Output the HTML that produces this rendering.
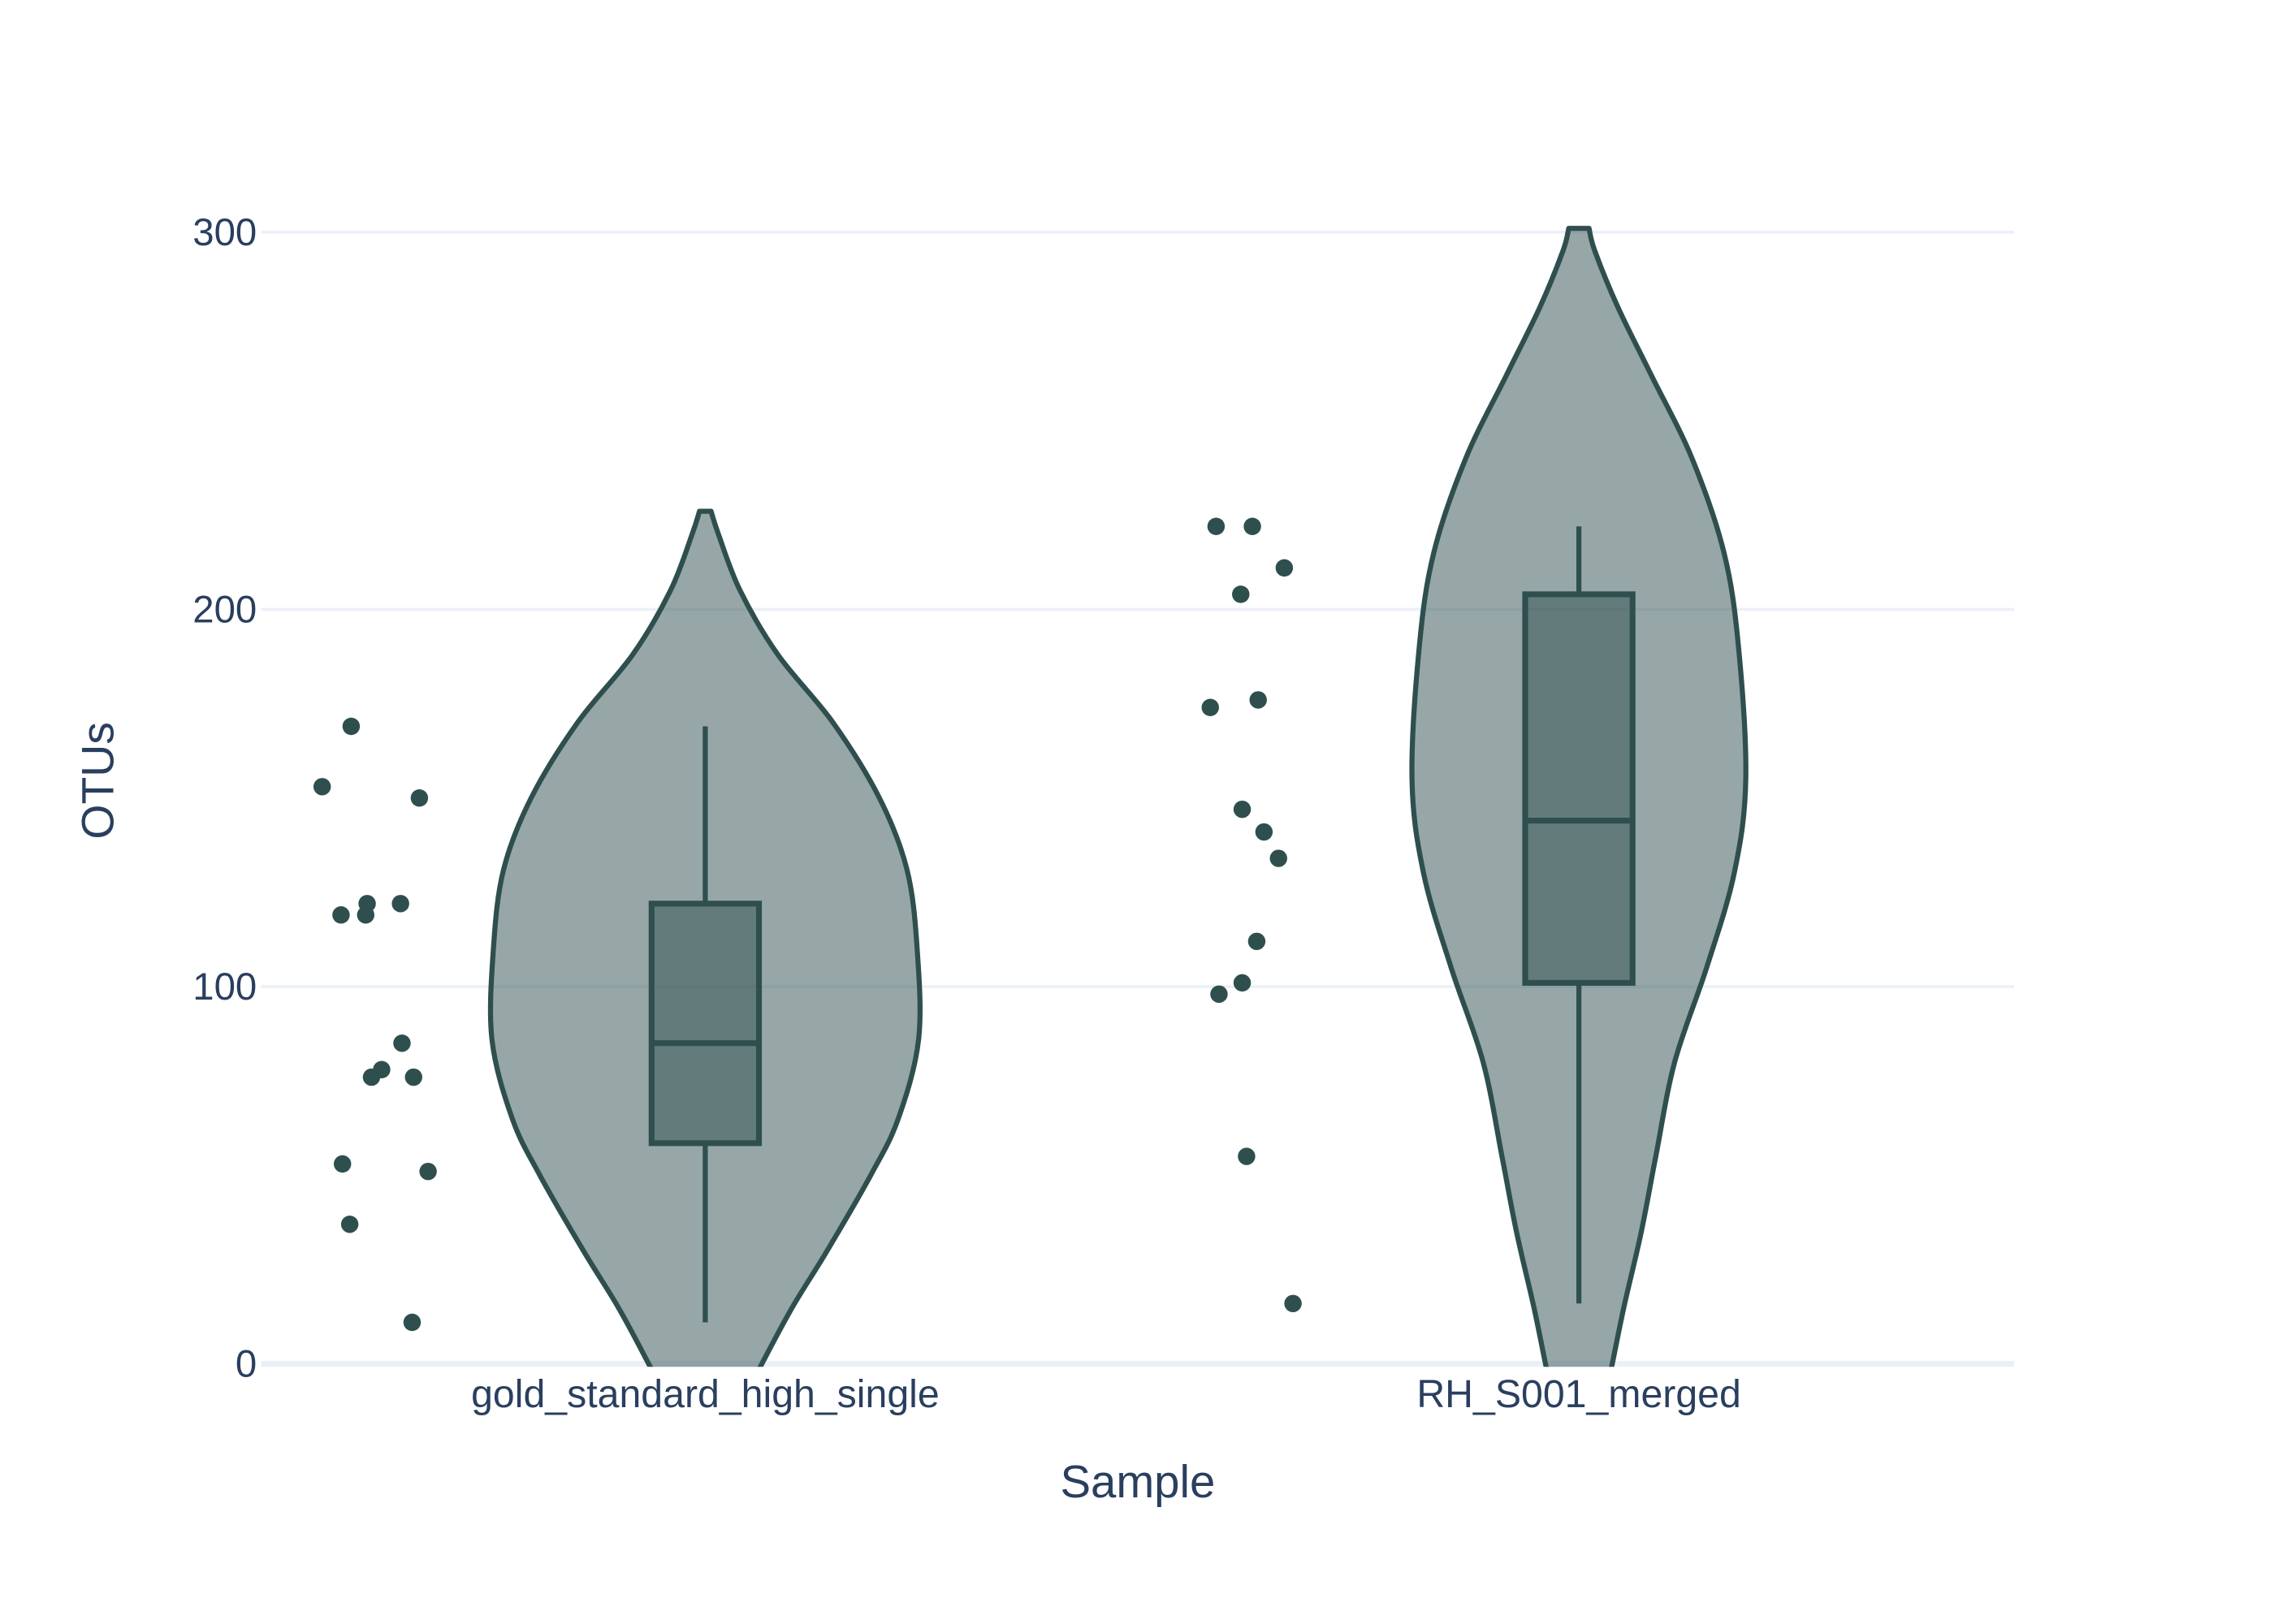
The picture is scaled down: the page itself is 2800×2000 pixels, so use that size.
<!DOCTYPE html>
<html><head><meta charset="utf-8"><style>
html,body{margin:0;padding:0;background:#fff;}
svg{display:block;font-family:"Liberation Sans",sans-serif;}
</style></head><body>
<svg id="chart" width="2800" height="2000" viewBox="0 0 1567 1119.3" preserveAspectRatio="none" xmlns="http://www.w3.org/2000/svg">
<defs><clipPath id="plotclip"><rect x="180" y="60" width="1208" height="882"/></clipPath></defs>
<g id="grid"></g>
<g id="marks" clip-path="url(#plotclip)"></g>
<g id="axes"></g>
<text x="784" y="1032" font-size="31.5" fill="#2a3f5f" text-anchor="middle">Sample</text>
<text transform="translate(78,538) rotate(-90)" font-size="31" fill="#2a3f5f" text-anchor="middle">OTUs</text>
</svg>
<script>
const categories = ["gold_standard_high_single", "RH_S001_merged"];
const yTicks = [0, 100, 200, 300];
// violin density profiles: value -> half-width
const violinVals1 = [226, 220, 205, 188, 170, 150, 131, 110, 86, 65, 50, 30, 15, 0, -10];
const violinWid1 = [4, 9, 24, 50, 88, 120, 139, 146, 147, 133, 114, 84, 60, 39, 26];
const violinVals2 = [301, 295, 280, 262, 240, 215, 190, 155, 130, 105, 80, 55, 35, 15, 0, -5];
const violinWid2 = [7, 11, 27, 50, 78, 100, 110, 115, 107, 88, 66, 53, 43, 31, 23, 20];
const boxQ1 = [58.5, 101];
const boxMed = [85, 144];
const boxQ3 = [122, 204];
const whiskLo = [11, 16];
const whiskHi = [169, 222];
const pts1 = [153, 169, 150, 119, 122, 119, 122, 85, 78, 76, 76, 53, 51, 37, 11];
const jit1 = [-264, -244, -197, -251, -233, -234, -210, -209, -223, -230, -201, -250, -191, -245, -202];
const pts2 = [222, 222, 211, 204, 174, 176, 147, 141, 134, 112, 101, 98, 55, 16];
const jit2 = [-250, -225, -203, -233, -254, -221, -232, -217, -207, -222, -232, -248, -229, -197];

const NS = "http://www.w3.org/2000/svg";
const X0 = 180, X1 = 1388, Y0 = 940, Ypx = 2.6;
function yScale(v){ return Y0 - v * Ypx; }
function xc(i){ return 486 + i * ((X1 - X0) / categories.length) - 2 * i; }
const grid = document.getElementById('grid'), marks = document.getElementById('marks'), axes = document.getElementById('axes');
function mk(tag, attrs, parent){ const e = document.createElementNS(NS, tag); for (const k in attrs) e.setAttribute(k, attrs[k]); parent.appendChild(e); return e; }

yTicks.forEach(t => {
  const g = mk('line', {x1: X0, x2: X1, y1: yScale(t), y2: yScale(t), stroke: '#ebf0f8', 'stroke-width': t===0 ? 4 : 2}, grid);
  
  
  const l = mk('text', {x: 177, y: yScale(t) + 9, 'font-size': 26.5, fill: '#2a3f5f', 'text-anchor': 'end'}, axes);
  l.textContent = t;
  
  
});
categories.forEach((c, i) => {
  const l = mk('text', {x: xc(i), y: 970, 'font-size': 27, fill: '#2a3f5f', 'text-anchor': 'middle'}, axes);
  l.textContent = c;
  
  
});

function smooth(pts){
  let d = 'M' + pts[0][0] + ',' + pts[0][1];
  for (let i = 0; i < pts.length - 1; i++){
    const p0 = pts[Math.max(i-1,0)], p1 = pts[i], p2 = pts[i+1], p3 = pts[Math.min(i+2, pts.length-1)];
    const c1 = [p1[0] + (p2[0]-p0[0])/6, p1[1] + (p2[1]-p0[1])/6];
    const c2 = [p2[0] - (p3[0]-p1[0])/6, p2[1] - (p3[1]-p1[1])/6];
    d += ' C' + c1[0] + ',' + c1[1] + ' ' + c2[0] + ',' + c2[1] + ' ' + p2[0] + ',' + p2[1];
  }
  return d;
}
function violin(i, vals, wids){
  const cx = xc(i);
  const right = vals.map((v, k) => [cx + wids[k], yScale(v)]);
  const left = vals.map((v, k) => [cx - wids[k], yScale(v)]).reverse();
  let d = smooth(right) + ' L' + left[0][0] + ',' + left[0][1] + smooth(left).replace(/^M[^C]*/, ' ') + ' Z';
  const p = mk('path', {d: d, fill: 'rgba(47,79,79,0.5)', stroke: '#2f4f4f', 'stroke-width': 3.5, 'stroke-linejoin': 'round'}, marks);
  
  
}
function box(i){
  const cx = xc(i), hw = 37;
  const w1 = mk('line', {x1: cx, x2: cx, y1: yScale(whiskLo[i]), y2: yScale(boxQ1[i]), stroke: '#2f4f4f', 'stroke-width': 3.5}, marks);
  
  
  const w2 = mk('line', {x1: cx, x2: cx, y1: yScale(whiskHi[i]), y2: yScale(boxQ3[i]), stroke: '#2f4f4f', 'stroke-width': 3.5}, marks);
  
  
  const r = mk('rect', {x: cx - hw, y: yScale(boxQ3[i]), width: 2*hw, height: yScale(boxQ1[i]) - yScale(boxQ3[i]), fill: 'rgba(47,79,79,0.5)', stroke: '#2f4f4f', 'stroke-width': 4}, marks);
  
  
  const m = mk('line', {x1: cx - hw, x2: cx + hw, y1: yScale(boxMed[i]), y2: yScale(boxMed[i]), stroke: '#2f4f4f', 'stroke-width': 4}, marks);
  
  
}
function points(i, vals, jit){
  vals.forEach((v, k) => {
    const c = mk('circle', {cx: xc(i) + jit[k], cy: yScale(v), r: 6, fill: '#2f4f4f'}, marks);
    
    
  });
}
violin(0, violinVals1, violinWid1);
violin(1, violinVals2, violinWid2);
box(0); box(1);
points(0, pts1, jit1);
points(1, pts2, jit2);
</script>
</body></html>
